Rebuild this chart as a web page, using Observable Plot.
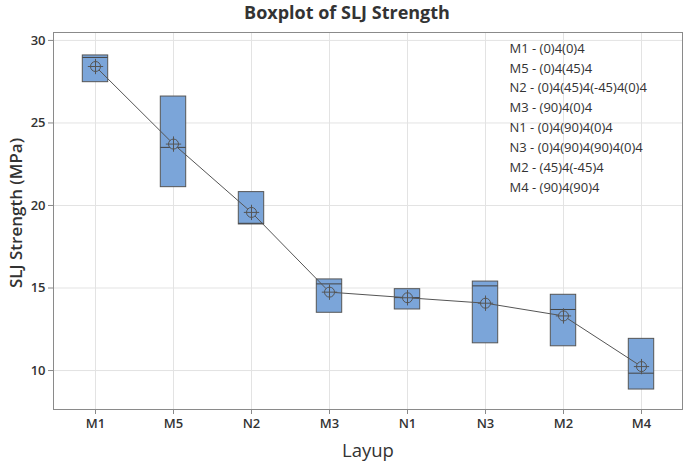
<!DOCTYPE html>
<html>
<head>
<meta charset="utf-8">
<script src="https://cdn.jsdelivr.net/npm/d3@7"></script>
<script src="https://cdn.jsdelivr.net/npm/@observablehq/plot@0.6"></script>
<style>
  body { margin: 0; background: #fff; font-family: "Open Sans", "Noto Sans", sans-serif; }
  #title { height: 25px; line-height: 25px; text-align: center; font-size: 18px; font-weight: bold; color: #333; width: 676px; padding-left: 9px; }
</style>
</head>
<body>
<div id="title">Boxplot of SLJ Strength</div>
<div id="chart"></div>
<script>
const layups = ["M1", "M5", "N2", "M3", "N1", "N3", "M2", "M4"];
const q1     = [27.47, 21.11, 18.85, 13.50, 13.70, 11.65, 11.47, 8.85];
const q3     = [29.09, 26.60, 20.81, 15.52, 14.93, 15.39, 14.59, 11.92];
const median = [28.97, 23.52, 18.92, 15.25, 14.42, 15.13, 13.70, 9.84];
const mean   = [28.42, 23.72, 19.58, 14.75, 14.41, 14.08, 13.31, 10.24];
const yTicks = [10, 15, 20, 25, 30];
const legendLines = [
  "M1 - (0)4(0)4",
  "M5 - (0)4(45)4",
  "N2 - (0)4(45)4(-45)4(0)4",
  "M3 - (90)4(0)4",
  "N1 - (0)4(90)4(0)4",
  "N3 - (0)4(90)4(90)4(0)4",
  "M2 - (45)4(-45)4",
  "M4 - (90)4(90)4"
];

const data = layups.map((l, i) => ({layup: l, q1: q1[i], q3: q3[i], median: median[i], mean: mean[i]}));

const chart = Plot.plot({
  width: 685,
  height: 437,
  marginTop: 7,
  marginBottom: 53,
  marginLeft: 53,
  marginRight: 3,
  style: {fontFamily: "'Open Sans', 'Noto Sans', sans-serif", color: "#333", background: "#fff"},
  x: {type: "band", domain: layups, padding: 0, label: null},
  y: {domain: [7.64, 30.48], ticks: yTicks, label: null},
  marks: [
    Plot.gridX(layups, {stroke: "#e3e3e3", strokeOpacity: 1}),
    Plot.gridY(yTicks, {stroke: "#e3e3e3", strokeOpacity: 1}),
    Plot.frame({stroke: "#8a8a8a"}),
    Plot.axisX({tickSize: 5, stroke: "#8a8a8a", fontSize: 13, fontWeight: 600, fill: "#333", tickPadding: 4}),
    Plot.axisY({ticks: yTicks, tickSize: 5, stroke: "#8a8a8a", fontSize: 13, fontWeight: 600, fill: "#333", tickPadding: 3}),
    Plot.rectY(data, {x: "layup", y1: "q1", y2: "q3", fill: "#7ba5d9", stroke: "#555", strokeWidth: 1, insetLeft: 26.3, insetRight: 26.3}),
    Plot.tickY(data, {x: "layup", y: "median", stroke: "#444", strokeWidth: 1, insetLeft: 26.3, insetRight: 26.3}),
    Plot.line(data, {x: "layup", y: "mean", stroke: "#555", strokeWidth: 1}),
    Plot.dot(data, {x: "layup", y: "mean", r: 5, stroke: "#555", strokeWidth: 1, fill: "#7ba5d9"}),
    Plot.dot(data, {x: "layup", y: "mean", r: 5, symbol: "plus", stroke: "#555", strokeWidth: 1}),
    Plot.text([legendLines.join("\n")], {frameAnchor: "top-left", dx: 456, dy: 6, textAnchor: "start", lineAnchor: "top", lineHeight: 1.53, fontSize: 13, fill: "#333"}),
    Plot.text(["Layup"], {frameAnchor: "bottom", dy: 47, fontSize: 18.5, fill: "#333"}),
    Plot.text(["SLJ Strength (MPa)"], {frameAnchor: "left", textAnchor: "middle", dx: -37, dy: -8, rotate: -90, fontSize: 17, fontWeight: 600, fill: "#333"})
  ]
});
document.getElementById("chart").appendChild(chart);
</script>
</body>
</html>
